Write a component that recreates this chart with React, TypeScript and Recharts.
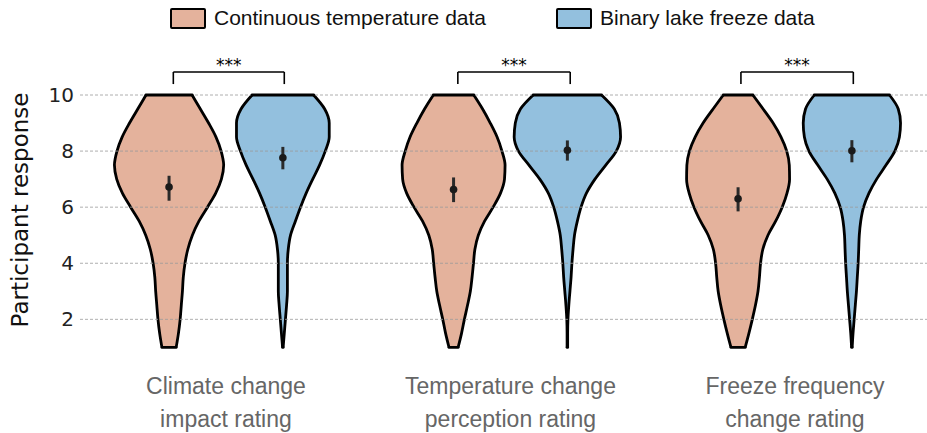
import React from 'react'
import {
  Area,
  ComposedChart,
  ErrorBar,
  Label,
  ReferenceLine,
  Scatter,
  XAxis,
  YAxis,
} from 'recharts'

// response levels at which the violin widths were read (1 .. 10)
const responseLevels = [1, 1.5, 2, 2.5, 3, 3.5, 4, 4.5, 5, 5.5, 6, 6.5, 7, 7.5, 8, 8.5, 9, 9.5, 10]

const categoryPositions = [0, 1, 2]
const categoryTop = ['Climate change', 'Temperature change', 'Freeze frequency']
const categoryBottom = ['impact rating', 'perception rating', 'change rating']

const seriesNames = ['Continuous temperature data', 'Binary lake freeze data']
const seriesColors = ['#e4b29c', '#93c0de']

// violin centres: category -/+ hue offset
const violinPositions = [-0.2, 0.2, 0.8, 1.2, 1.8, 2.2]
const violinSeries = [0, 1, 0, 1, 0, 1]

// half widths (x units) per response level
const climateContinuous = [0.025, 0.033, 0.039, 0.043, 0.047, 0.05, 0.056, 0.066, 0.082, 0.105, 0.135, 0.164, 0.184, 0.192, 0.183, 0.165, 0.139, 0.11, 0.081]
const climateBinary = [0.001, 0.005, 0.009, 0.013, 0.016, 0.016, 0.016, 0.019, 0.027, 0.044, 0.062, 0.082, 0.105, 0.129, 0.149, 0.163, 0.163, 0.147, 0.108]
const tempContinuous = [0.016, 0.028, 0.038, 0.049, 0.059, 0.065, 0.07, 0.075, 0.087, 0.109, 0.139, 0.165, 0.179, 0.181, 0.17, 0.153, 0.129, 0.102, 0.071]
const tempBinary = [0.001, 0.001, 0.002, 0.005, 0.009, 0.013, 0.016, 0.02, 0.025, 0.035, 0.048, 0.067, 0.097, 0.135, 0.172, 0.187, 0.183, 0.165, 0.12]
const freezeContinuous = [0.025, 0.038, 0.05, 0.061, 0.07, 0.075, 0.079, 0.087, 0.105, 0.132, 0.155, 0.172, 0.181, 0.18, 0.171, 0.151, 0.123, 0.088, 0.052]
const freezeBinary = [0.001, 0.004, 0.008, 0.012, 0.016, 0.019, 0.022, 0.024, 0.026, 0.031, 0.041, 0.06, 0.087, 0.12, 0.151, 0.167, 0.171, 0.163, 0.132]
const halfWidths = [climateContinuous, climateBinary, tempContinuous, tempBinary, freezeContinuous, freezeBinary]

// mean and 95% CI per violin
const means = [6.72, 7.76, 6.63, 8.03, 6.3, 8.01]
const ciLow = [6.23, 7.35, 6.18, 7.66, 5.85, 7.6]
const ciHigh = [7.12, 8.15, 7.06, 8.38, 6.71, 8.39]

// significance brackets
const bracketLeft = [-0.185, 0.815, 1.81]
const bracketRight = [0.205, 1.21, 2.205]
const bracketTop = 10.82
const bracketBottom = 10.39
const significance = ['***', '***', '***']

const yTicks = [2, 4, 6, 8, 10]

const violinData = responseLevels.map((y, i) => {
  const row: Record<string, number | number[]> = { y }
  violinPositions.forEach((c, v) => {
    row[`v${v}`] = [c - halfWidths[v][i], c + halfWidths[v][i]]
  })
  return row
})

const meanData = violinPositions.map((x, i) => ({
  x,
  y: means[i],
  err: [means[i] - ciLow[i], ciHigh[i] - means[i]],
}))

const lastLevel = responseLevels.length - 1
const outline = 2.8

function CategoryTick(props: any) {
  const { x, y, payload } = props
  const i = categoryPositions.indexOf(payload.value)
  if (i < 0) return null
  return (
    <g>
      <text x={x} y={y + 35.5} textAnchor="middle" fill="#666" fontSize={23} fontFamily="'Liberation Sans', Arial, sans-serif">
        {categoryTop[i]}
      </text>
      <text x={x} y={y + 68.5} textAnchor="middle" fill="#666" fontSize={23} fontFamily="'Liberation Sans', Arial, sans-serif">
        {categoryBottom[i]}
      </text>
    </g>
  )
}

function YLabel(props: any) {
  const vb = props.viewBox || { x: 0, y: 61, width: 80, height: 297 }
  const cx = vb.x + 28.5
  const cy = vb.y + vb.height / 2
  return (
    <text
      x={cx}
      y={cy}
      transform={`rotate(-90 ${cx} ${cy})`}
      textAnchor="middle"
      fill="#111"
      fontSize={23}
      fontFamily="'DejaVu Sans', sans-serif"
    >
      Participant response
    </text>
  )
}

function LegendBar() {
  const items = [
    { left: 170, textLeft: 214 },
    { left: 556, textLeft: 600 },
  ]
  return (
    <>
      {items.map((it, i) => (
        <React.Fragment key={i}>
          <div
            style={{
              position: 'absolute',
              left: it.left,
              top: 8,
              width: 32,
              height: 17,
              background: seriesColors[i],
              border: '2px solid #000',
              borderRadius: 2,
            }}
          />
          <div
            style={{
              position: 'absolute',
              left: it.textLeft,
              top: 6,
              fontSize: 21,
              lineHeight: '24px',
              fontFamily: "'Liberation Sans', Arial, sans-serif",
              color: '#111',
              whiteSpace: 'nowrap',
            }}
          >
            {seriesNames[i]}
          </div>
        </React.Fragment>
      ))}
    </>
  )
}

export default function App() {
  return (
    <div style={{ position: 'absolute', left: 0, top: 0, width: 927, height: 433, background: '#fff' }}>
      <ComposedChart
        width={927}
        height={433}
        layout="vertical"
        data={violinData}
        margin={{ top: 61.35, right: 0, bottom: 4.4, left: 0 }}
      >
        <XAxis
          type="number"
          dataKey="x"
          domain={[-0.513, 2.464]}
          allowDataOverflow
          ticks={categoryPositions}
          interval={0}
          tick={<CategoryTick />}
          tickLine={false}
          axisLine={false}
          tickSize={0}
          tickMargin={0}
          height={70}
        />
        <YAxis
          type="number"
          dataKey="y"
          domain={[0.6, 11.2]}
          allowDataOverflow
          reversed
          ticks={yTicks}
          interval={0}
          width={80}
          tickLine={false}
          axisLine={false}
          tickSize={0}
          tickMargin={6}
          tick={{ fill: '#222', fontSize: 20, fontFamily: "'DejaVu Sans', sans-serif" }}
        >
          <Label content={<YLabel />} />
        </YAxis>

        {/* dashed horizontal grid */}
        {yTicks.map((t) => (
          <ReferenceLine key={`grid-${t}`} y={t} stroke="#9a9a9a" strokeDasharray="3 2" strokeWidth={0.8} />
        ))}

        {violinPositions.map((c, v) => (
          <Area
            key={`violin-${v}`}
            dataKey={`v${v}`}
            type="monotone"
            fill={seriesColors[violinSeries[v]]}
            fillOpacity={1}
            stroke="#000"
            strokeWidth={outline}
            dot={false}
            activeDot={false}
            isAnimationActive={false}
          />
        ))}

        {violinPositions.map((c, v) => (
          <ReferenceLine
            key={`cap-top-${v}`}
            segment={[
              { x: c - halfWidths[v][lastLevel], y: responseLevels[lastLevel] },
              { x: c + halfWidths[v][lastLevel], y: responseLevels[lastLevel] },
            ]}
            stroke="#000"
            strokeWidth={outline}
            strokeLinecap="round"
          />
        ))}
        {violinPositions.map((c, v) => (
          <ReferenceLine
            key={`cap-bottom-${v}`}
            segment={[
              { x: c - halfWidths[v][0], y: responseLevels[0] },
              { x: c + halfWidths[v][0], y: responseLevels[0] },
            ]}
            stroke="#000"
            strokeWidth={outline}
            strokeLinecap="round"
          />
        ))}

        {bracketLeft.map((l, i) => (
          <ReferenceLine
            key={`br-h-${i}`}
            segment={[
              { x: l, y: bracketTop },
              { x: bracketRight[i], y: bracketTop },
            ]}
            stroke="#000"
            strokeWidth={1.6}
            label={{
              value: significance[i],
              position: 'top',
              offset: 1,
              fill: '#000',
              fontSize: 17,
              fontFamily: "'DejaVu Sans', sans-serif",
            }}
          />
        ))}
        {bracketLeft.map((l, i) => (
          <ReferenceLine
            key={`br-l-${i}`}
            segment={[
              { x: l, y: bracketTop },
              { x: l, y: bracketBottom },
            ]}
            stroke="#000"
            strokeWidth={1.6}
          />
        ))}
        {bracketRight.map((r, i) => (
          <ReferenceLine
            key={`br-r-${i}`}
            segment={[
              { x: r, y: bracketTop },
              { x: r, y: bracketBottom },
            ]}
            stroke="#000"
            strokeWidth={1.6}
          />
        ))}

        <Scatter
          data={meanData}
          isAnimationActive={false}
          shape={(p: any) => <circle cx={p.cx} cy={p.cy} r={3.8} fill="#1a1a1a" />}
        >
          <ErrorBar dataKey="err" direction="y" width={0} stroke="#2a2a2a" strokeWidth={3} />
        </Scatter>
      </ComposedChart>
      <LegendBar />
    </div>
  )
}
